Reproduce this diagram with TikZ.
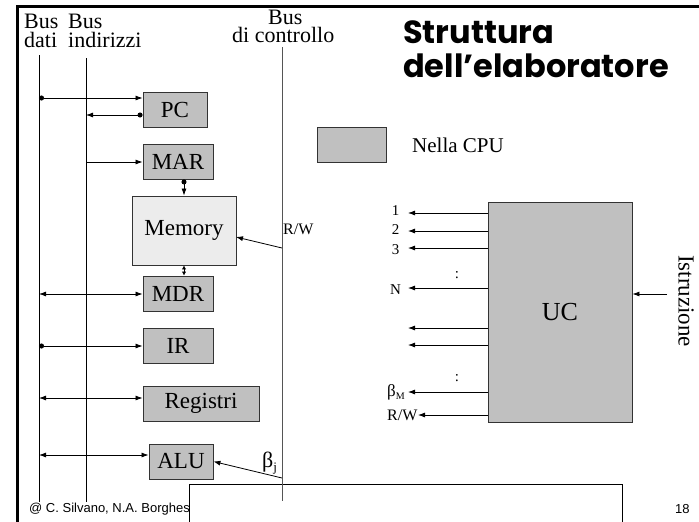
\documentclass[tikz,border=0pt]{standalone}
\usepackage{fontspec}
\setmainfont{Liberation Serif}
\newfontfamily\footfont{Liberation Sans}
\newfontfamily\titlefont{Poppins}
\usetikzlibrary{arrows.meta}
\definecolor{boxgray}{HTML}{C0C0C0}
\definecolor{memgray}{HTML}{ECECEC}
\definecolor{edgegray}{HTML}{333333}
\definecolor{busgray}{HTML}{555555}
\newcommand\fs[1]{\fontsize{#1}{#1}\selectfont}
\begin{document}
\begin{tikzpicture}[x=1pt,y=-1pt,
  reg/.style={draw=edgegray, line width=0.9pt, fill=boxgray, minimum height=35pt, inner sep=0pt, font=\fs{23}},
  lbl/.style={inner sep=0pt, anchor=base west},
  wire/.style={line width=0.8pt},
  arr/.style={wire, -{Latex[length=7pt,width=5pt]}},
  darr/.style={wire, {Latex[length=7pt,width=5pt]}-{Latex[length=7pt,width=5pt]}},
  dotarr/.style={wire, {Circle[length=5pt]}-{Latex[length=7pt,width=5pt]}},
  frame/.style={line width=2.6pt}
]
\useasboundingbox (0,0) rectangle (699,522);

% slide frame
\draw[frame] (17.5,6.5) -- (699,6.5);
\draw[frame] (17.5,5.2) -- (17.5,522);

% title and legend
\node[lbl, font=\titlefont\bfseries\fs{32}] (t1) at (403,43) {Struttura};
\node[lbl, font=\titlefont\bfseries\fs{32}] (t2) at (403,77) {dell’elaboratore};
\node[reg, minimum width=69pt] (cpu) at (351.5,144.5) {};
\node[lbl, font=\fs{21}] (cpulbl) at (412,152) {Nella CPU};

% bus headings
\node[lbl, font=\fs{22}] (hb1) at (24,28) {Bus};
\node[lbl, font=\fs{22}] (hd) at (24,47) {dati};
\node[lbl, font=\fs{22}] (hb2) at (68,28) {Bus};
\node[lbl, font=\fs{22}] (hi) at (68,47) {indirizzi};
\node[lbl, font=\fs{22}] (hb3) at (268,24) {Bus};
\node[lbl, font=\fs{22}] (hc) at (232,42.5) {di controllo};

% buses
\coordinate (dTop) at (39,55);  \coordinate (dBot) at (39,502);
\coordinate (aTop) at (86,58);  \coordinate (aBot) at (86,502);
\coordinate (cTop) at (282,47); \coordinate (cBot) at (282,501);
\draw[wire] (dTop) -- (dBot);
\draw[wire] (aTop) -- (aBot);

% registers and memory
\node[reg, minimum width=64pt] (pc) at (175,109.5) {PC};
\node[reg, minimum width=70pt] (mar) at (178,161.5) {MAR};
\node[reg, fill=memgray, minimum width=104pt, minimum height=69pt] (mem) at (184,230.5) {Memory};
\node[reg, minimum width=70pt] (mdr) at (178,293.5) {MDR};
\node[reg, minimum width=70pt] (ir) at (178,345.5) {IR};
\node[reg, minimum width=116pt] (regs) at (201,403.5) {Registri};
\node[reg, minimum width=64pt] (alu) at (181,461.5) {ALU};

% bus connections
\coordinate (d1) at (39,98);   \draw[dotarr] (d1) -- (d1 -| pc.west);
\coordinate (a1) at (86,115);  \draw[dotarr] (a1 -| pc.west) -- (a1);
\coordinate (a2) at (86,162);  \draw[arr] (a2) -- (a2 -| mar.west);
\draw[dotarr] (mar.south -| mem.north) -- (mem.north);
\draw[wire, {Latex[length=4pt,width=4.5pt]}-{Latex[length=4pt,width=4.5pt]}] (mem.south) -- (mdr.north -| mem.south);
\coordinate (d2) at (39,294);  \draw[darr] (d2) -- (d2 -| mdr.west);
\coordinate (d3) at (39,346);  \draw[dotarr] (d3) -- (d3 -| ir.west);
\coordinate (d4) at (39,398);  \draw[darr] (d4) -- (d4 -| regs.west);
\coordinate (d5) at (39,455);  \draw[darr] (d5) -- (d5 -| alu.west);

% control signals into memory and ALU
\coordinate (c1) at (282,248); \coordinate (m1) at (236,237);
\draw[arr] (c1) -- (m1);
\node[lbl, font=\fs{16}] (rw1) at (283,234) {R/W};
\coordinate (c2) at (282,478);
\draw[arr] (c2) -- (alu.east);
\node[lbl, font=\fs{22}] (bj) at (262,467) {β\raisebox{-0.2em}{\fs{13}j}};

% control unit
\node[reg, minimum width=144pt, minimum height=220pt, font=\fs{26}] (uc) at (560,312) {UC};
\foreach \y/\n in {213/1,231/2,248/3,288/4,328/5,345/6,392/7}{
  \coordinate (o\n) at (408,\y);
  \draw[arr] (uc.west |- o\n) -- (o\n);
}
\coordinate (o8) at (418,415);
\draw[arr] (uc.west |- o8) -- (o8);
\node[font=\fs{15}, inner sep=0pt] (s1) at (395.5,211) {1};
\node[font=\fs{15}, inner sep=0pt] (s2) at (395.5,229.5) {2};
\node[font=\fs{15}, inner sep=0pt] (s3) at (395.5,250) {3};
\node[font=\fs{15}, inner sep=0pt] (sd1) at (457,275) {:};
\node[font=\fs{15}, inner sep=0pt] (sN) at (395.5,290) {N};
\node[font=\fs{15}, inner sep=0pt] (sd2) at (457,378) {:};
\node[lbl, font=\fs{17}] (bM) at (387,396) {β\raisebox{-0.2em}{\fs{10}M}};
\node[lbl, font=\fs{16}] (rw2) at (387,420) {R/W};
\coordinate (iIn) at (667,294);
\draw[arr] (iIn) -- (iIn -| uc.east);
\node[font=\fs{23}, rotate=-90, inner sep=0pt] (istr) at (686,301) {Istruzione};

% footer, partly hidden by the blank panel
\node[lbl, font=\footfont\fs{13}] (foot) at (29,512) {@ C. Silvano, N.A. Borghese};
\node[lbl, font=\footfont\fs{13}] (page) at (675,513) {18};
\draw[line width=0.9pt, fill=white] (189,530) -- (189,484) -- (622,484) -- (622,530);

% control bus drawn over the panel
\draw[wire, busgray] (cTop) -- (cBot);
\end{tikzpicture}
\end{document}
